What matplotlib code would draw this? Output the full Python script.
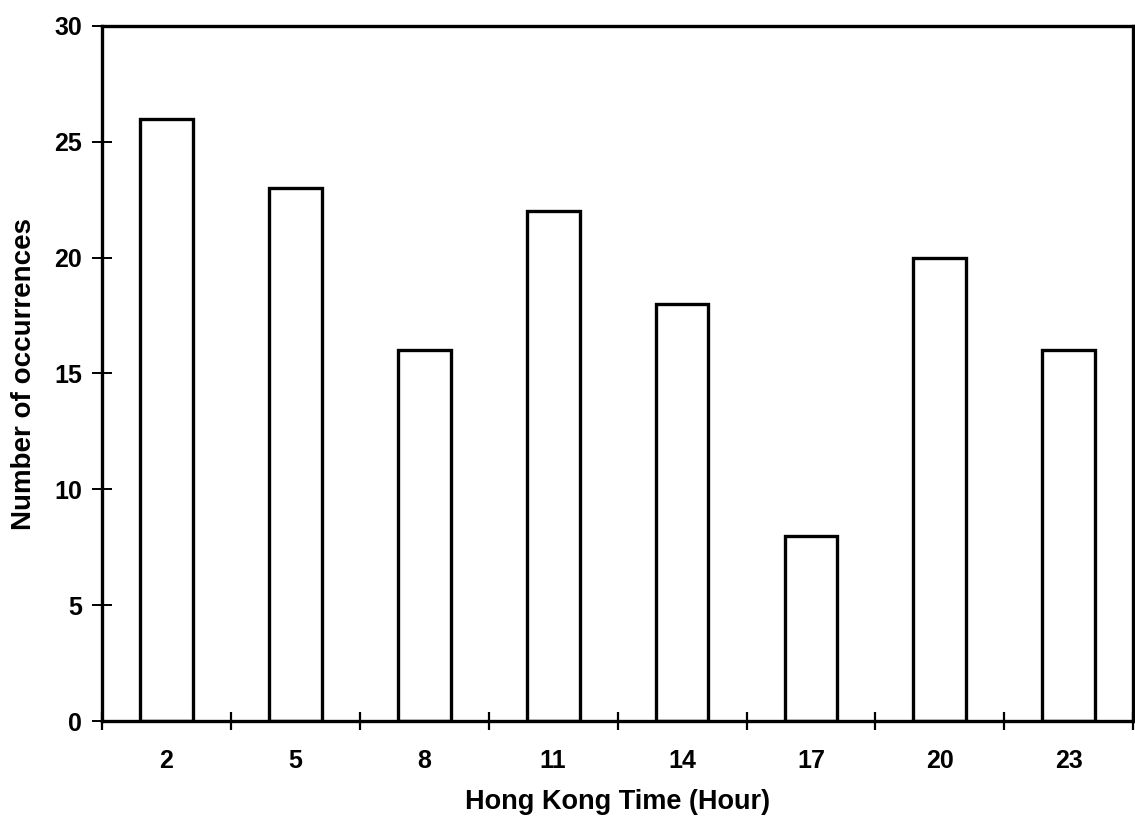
import matplotlib
matplotlib.use("Agg")
import matplotlib.pyplot as plt
import numpy as np

hours = ["2", "5", "8", "11", "14", "17", "20", "23"]
occurrences = [26, 23, 16, 22, 18, 8, 20, 16]
y_ticks = [0, 5, 10, 15, 20, 25, 30]

plt.rcParams["font.family"] = ["Liberation Sans", "DejaVu Sans"]
plt.rcParams["font.weight"] = "bold"

fig = plt.figure(figsize=(11.35, 8.3), dpi=100)
ax = fig.add_axes([0.0899, 0.1313, 0.9085, 0.8374])

x = np.arange(len(hours))
ax.bar(x, occurrences, width=0.41, color="white", edgecolor="black", linewidth=2.4)

ax.set_xlim(-0.5, len(hours) - 0.5)
ax.set_ylim(0, 30)
ax.set_yticks(y_ticks)
ax.set_yticklabels([str(v) for v in y_ticks], fontsize=18, fontweight="bold")

# category labels centred under bars, tick marks at category boundaries
ax.set_xticks(x)
ax.set_xticklabels(hours, fontsize=18, fontweight="bold")
ax.tick_params(axis="x", which="major", length=0, pad=20)
ax.set_xticks(np.arange(len(hours) + 1) - 0.5, minor=True)
ax.tick_params(axis="x", which="minor", direction="inout", length=13, width=1.6)
ax.tick_params(axis="y", direction="inout", length=14, width=1.4, pad=7.5)

for s in ax.spines.values():
    s.set_linewidth(2.4)

ax.set_xlabel("Hong Kong Time (Hour)", fontsize=19.5, fontweight="bold", labelpad=12)
ax.set_ylabel("Number of occurrences", fontsize=20, fontweight="bold", labelpad=12)

fig.savefig("out.png", dpi=100, facecolor="white")
